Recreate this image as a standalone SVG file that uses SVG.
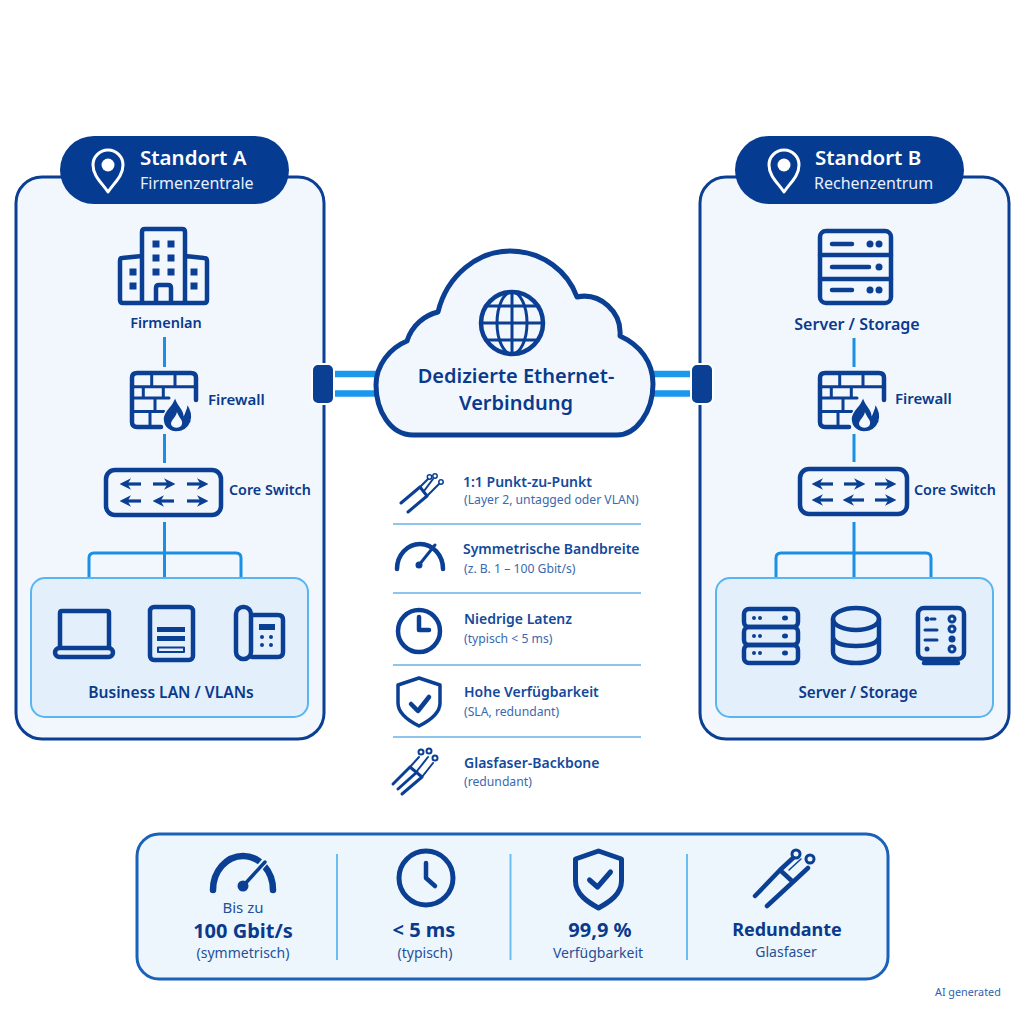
<svg xmlns="http://www.w3.org/2000/svg" width="1024" height="1024" viewBox="0 0 1024 1024">
<style>
text{font-family:"Noto Sans","Open Sans","Liberation Sans",sans-serif;fill:#0a3a8c}
.ic{fill:none;stroke:#0b3f94;stroke-width:4.500;stroke-linecap:round;stroke-linejoin:round}
.ict{fill:none;stroke:#0b3f94;stroke-width:3;stroke-linecap:round;stroke-linejoin:round}
.w15{stroke-width:1.500}.w2{stroke-width:2}.w35{stroke-width:3.500}.w5{stroke-width:5}.w6{stroke-width:6.500}
.sol{fill:#0b3f94}
.panel{fill:#f2f7fd;stroke:#0b3f94;stroke-width:3}
.pill{fill:#063b92}
.inner{fill:#e3f0fb;stroke:#5ab4f0;stroke-width:2}
.conn{fill:none;stroke:#1a8fe6;stroke-width:3}
.sep{stroke:#8cc6ef;stroke-width:2}
.div{stroke:#6dbdf3;stroke-width:2}
.t1{font-size:20.500px;font-weight:600;fill:#fff}
.t2{font-size:16px;fill:#e8f0fb}
.lb{font-size:14.500px;font-weight:600}
.ft{font-size:14px;font-weight:600;fill:#134a9c}
.fs{font-size:12.200px;fill:#3a68ae}
.big{font-size:20px;font-weight:700}
.sm{font-size:14px;fill:#1f5099}
.m{text-anchor:middle}
.arrows path{fill:none;stroke:#0b3f94;stroke-width:3.200;marker-end:url(#ah)}
</style>
<defs>
<marker id="ah" viewBox="0 0 10 10" refX="7" refY="5" markerWidth="3.600" markerHeight="4" orient="auto"><path d="M0 0 10 5 0 10 3 5Z" fill="#0b3f94"/></marker>
<g id="pin"><path d="M0 21C-6 12-15 5-15-6A15 15 0 0 1 15-6C15 5 6 12 0 21Z" fill="none" stroke="#fff" stroke-width="3" stroke-linejoin="round"/><circle cy="-6" r="6.500" fill="#fff"/></g>
<g id="firewall">
<path class="ic" d="M30 55H6Q1 55 1 50V6Q1 1 6 1H60Q65 1 65 6V28"/>
<path class="ict" d="M1 14.700H65M1 26H38M1 39.600H33M20.700 1V14.700M44 1V14.700M12.300 14.700V26M32.300 14.700V26M24 26V39.600M19 39.600V55"/>
<path class="sol" stroke="#f2f7fd" stroke-width="1.500" d="M44 23C45 32 52 36 53 42C55 38 56 34 56 31C61 38 62 44 60 50C57 57 51 60 45 60C37 60 32 54 32 47C32 40 38 36 41 31C43 28 44 26 44 23Z"/>
<path d="M46 40C48 46 52 48 51 52C50 57 41 57 40 52C40 48 45 45 46 40Z" fill="#f2f7fd"/>
</g>
<g id="shield"><path class="ic w35" d="M0-23 21-16V2C21 13 10 20 0 25C-10 20-21 13-21 2V-16Z"/><path class="ic" d="M-8 3-1 10 10-4"/></g>
<g id="shieldB"><path class="ic w5" d="M0-28 23-20V2C23 15 11 23 0 29C-11 23-23 15-23 2V-20Z"/><path class="ic w5" d="M-9 1-1 8 12-7"/></g>
</defs>
<rect width="1024" height="1024" fill="#fff"/>

<g id="panel-a"><rect class="panel" x="16" y="177" width="308" height="562" rx="26"/></g>
<g id="panel-b"><rect class="panel" x="700" y="177" width="309" height="562" rx="26"/></g>

<g id="connectors">
<path class="conn" d="M164.500 337V367M164.500 434V463M164.500 522V577M89 577V558Q89 553 94 553H236Q241 553 241 558V577"/>
<path class="conn" d="M854 338V367M854 434V462M854 522V577M776 577V558Q776 553 781 553H926Q931 553 931 558V577"/>
<path d="M333 374H378M333 393.500H378M652 374H692M652 393.500H692" fill="none" stroke="#1a98ee" stroke-width="6.500"/>
</g>

<g id="standort-a">
<rect class="pill" x="60" y="136" width="229" height="68" rx="34"/>
<use href="#pin" x="108" y="171"/>
<text class="t1" x="140" y="165">Standort A</text>
<text class="t2" x="140" y="189">Firmenzentrale</text>
</g>
<g id="firmenlan">
<path class="ic" d="M142 303V232Q142 229 145 229H182Q185 229 185 232V303M142 256 122 258Q120 258 120 261V300Q120 303 123 303H204Q207 303 207 300V261Q207 258 204 258L185 256M156 303V288Q156 285 159 285H168Q171 285 171 288V303"/>
<path class="sol" d="M152.500 240.500h7v7h-7zM167.500 240.500h7v7h-7zM152.500 254.500h7v7h-7zM167.500 254.500h7v7h-7zM152.500 268.500h7v7h-7zM167.500 268.500h7v7h-7zM129.500 268.500h7v7h-7zM129.500 282.500h7v7h-7zM190.500 268.500h7v7h-7zM190.500 282.500h7v7h-7z"/>
<text class="lb m" x="166" y="328">Firmenlan</text>
</g>
<g id="firewall-a"><use href="#firewall" x="131" y="372"/><text class="lb" x="208" y="405" style="font-size:15px">Firewall</text></g>
<g id="switch-a">
<rect class="ic" x="106" y="470" width="115" height="45" rx="9"/>
<g class="arrows"><path d="M141 484H123"/><path d="M153 484H172"/><path d="M187 484H205"/><path d="M141 501H123"/><path d="M174 501H156"/><path d="M187 501H205"/></g>
<text class="lb" x="229" y="495" style="font-size:14.300px">Core Switch</text>
</g>
<g id="business-lan">
<rect class="inner" x="31" y="578" width="277" height="139" rx="14"/>
<path class="ic" d="M60 647V613Q60 611 62 611H107Q109 611 109 613V647"/>
<rect class="ic" x="55" y="648" width="58" height="9" rx="4.500"/>
<rect class="ic" x="150" y="607" width="43" height="53" rx="4"/>
<path class="sol" d="M157 627h28v5h-28zM157 636h28v5h-28z"/>
<rect class="ict w2" x="158" y="647.500" width="26" height="4.500"/>
<rect class="ic" x="236" y="607" width="15" height="52" rx="7"/>
<path class="ic" d="M252 615H278Q283 615 283 620V652Q283 657 278 657H252"/>
<path class="sol" d="M259 624h16v6h-16z"/>
<circle class="sol" cx="262" cy="637" r="2"/><circle class="sol" cx="271" cy="637" r="2"/><circle class="sol" cx="262" cy="645" r="2"/><circle class="sol" cx="271" cy="645" r="2"/>
<text class="lb m" x="171" y="698" style="font-size:15.600px">Business LAN / VLANs</text>
</g>

<g id="standort-b">
<rect class="pill" x="735" y="136" width="229" height="68" rx="34"/>
<use href="#pin" x="784" y="171"/>
<text class="t1" x="815" y="165">Standort B</text>
<text class="t2" x="814" y="189">Rechenzentrum</text>
</g>
<g id="server-top">
<rect class="ic" x="820" y="231" width="71" height="72" rx="6"/>
<path class="ic" d="M820 255H891M820 279H891"/>
<path class="ic" d="M832 244H852M832 267H869M832 290H852"/>
<circle class="sol" cx="870" cy="244" r="3.500"/><circle class="sol" cx="879" cy="244" r="3.500"/><circle class="sol" cx="879" cy="267" r="3.500"/><circle class="sol" cx="870" cy="290" r="3.500"/><circle class="sol" cx="879" cy="290" r="3.500"/>
<text class="lb m" x="857" y="330" style="font-size:16px">Server / Storage</text>
</g>
<g id="firewall-b"><use href="#firewall" x="819" y="372"/><text class="lb" x="895" y="404" style="font-size:15px">Firewall</text></g>
<g id="switch-b">
<rect class="ic" x="800" y="469" width="107" height="45" rx="9"/>
<g class="arrows"><path d="M833 484H815"/><path d="M844 484H862"/><path d="M875 484H893"/><path d="M833 500H815"/><path d="M864 500H846"/><path d="M875 500H893"/></g>
<text class="lb" x="914" y="495" style="font-size:14.300px">Core Switch</text>
</g>
<g id="server-storage">
<rect class="inner" x="716" y="578" width="277" height="139" rx="14"/>
<rect class="ic" x="744" y="609" width="54" height="18" rx="5"/><rect class="ic" x="744" y="627" width="54" height="18" rx="5"/><rect class="ic" x="744" y="645" width="54" height="18" rx="5"/>
<path class="sol" d="M752 618a2 2 0 1 0 4 0a2 2 0 1 0-4 0M758 618a2 2 0 1 0 4 0a2 2 0 1 0-4 0M782 618a3 2.500 0 1 0 6 0a3 2.500 0 1 0-6 0M752 636a2 2 0 1 0 4 0a2 2 0 1 0-4 0M758 636a2 2 0 1 0 4 0a2 2 0 1 0-4 0M782 636a3 2.500 0 1 0 6 0a3 2.500 0 1 0-6 0M752 653a2 2 0 1 0 4 0a2 2 0 1 0-4 0M758 653a2 2 0 1 0 4 0a2 2 0 1 0-4 0M782 653a3 2.500 0 1 0 6 0a3 2.500 0 1 0-6 0"/>
<ellipse class="ic" cx="856" cy="619" rx="23" ry="11"/>
<path class="ic" d="M833 619V652C833 659 843 663 856 663S879 659 879 652V619M833 636C833 643 843 646 856 646S879 643 879 636"/>
<rect class="ic" x="918" y="608" width="46" height="51" rx="6"/>
<path class="ic" d="M924 663H958"/>
<circle class="sol" cx="927" cy="619" r="2.500"/><path class="ict" d="M931 619H935M925 630H937M925 640H937"/><circle class="sol" cx="927" cy="649" r="2.500"/>
<circle class="ict" cx="952" cy="619" r="3"/><circle class="ict" cx="952" cy="629" r="3"/><circle class="sol" cx="952" cy="639" r="3.500"/><circle class="ict" cx="952" cy="649" r="3"/>
<text class="lb m" x="858" y="698" style="font-size:15.200px">Server / Storage</text>
</g>

<g id="port-a"><rect x="312" y="364" width="22" height="40" rx="6" fill="#0b3f94" stroke="#fff" stroke-width="2"/></g>
<g id="port-b"><rect x="691" y="364" width="22" height="40" rx="6" fill="#0b3f94" stroke="#fff" stroke-width="2"/></g>

<g id="cloud">
<path d="M413 435C390 435 376 410 376 385C376 365 390 348 407 341C412 325 425 315 438 312C447 275 478 251 510 251C543 251 568 272 577 297C600 292 622 312 620 336C640 345 653 362 653 384C653 412 636 435 617 435Z" fill="#f2f7fd" stroke="#0b3f94" stroke-width="5" stroke-linejoin="round"/>
<circle class="ic" cx="512" cy="323" r="31"/>
<ellipse class="ict" cx="512" cy="323" rx="15" ry="31"/>
<path class="ict" d="M512 292V354M481 323H543M486 306H538M486 340H538"/>
<text x="516" y="383" class="m" font-size="20" font-weight="600">Dedizierte Ethernet-</text>
<text x="516" y="410" class="m" font-size="20" font-weight="600">Verbindung</text>
</g>

<g id="features">
<path class="sep" d="M393 524H641M393 593H641M393 665H641M393 737H641"/>
<path class="ict" d="M401 503 420 487M408 512 427 496M420 487 427 496"/><path class="ict w2" d="M420 487 428 479M424 491 433 479M427 496 439 484"/>
<circle class="ict w15" cx="429.500" cy="477" r="2.200"/><circle class="ict w15" cx="435" cy="476" r="2.200"/><circle class="ict w15" cx="441" cy="482" r="2.200"/>
<text class="ft" x="463" y="487">1:1 Punkt-zu-Punkt</text><text class="fs" x="464" y="504">(Layer 2, untagged oder VLAN)</text>
<path class="ic" d="M397 569A23 25 0 0 1 443 569"/><path class="ict" d="M419 565 435 545"/><circle class="sol" cx="419" cy="565" r="3.500"/>
<text class="ft" x="463" y="554">Symmetrische Bandbreite</text><text class="fs" x="464" y="573">(z. B. 1 – 100 Gbit/s)</text>
<circle class="ic" cx="419" cy="631" r="21"/><path class="ic" d="M419 617V630H429"/>
<text class="ft" x="464" y="624">Niedrige Latenz</text><text class="fs" x="464" y="643">(typisch &lt; 5 ms)</text>
<use href="#shield" x="419" y="701"/>
<text class="ft" x="464" y="697">Hohe Verfügbarkeit</text><text class="fs" x="464" y="716">(SLA, redundant)</text>
<path class="ict" d="M393 784 410 767M398 789 417 772M402 794 422 777M410 767 422 777"/><path class="ict w2" d="M410 767 419 757M417 771 428 757M422 777 433 763"/>
<circle class="ict w2" cx="421" cy="752" r="2.500"/><circle class="ict w2" cx="429" cy="751" r="2.500"/><circle class="ict w2" cx="435" cy="758" r="2.500"/>
<text class="ft" x="464" y="768">Glasfaser-Backbone</text><text class="fs" x="464" y="786">(redundant)</text>
</g>

<g id="summary">
<rect x="137" y="834" width="751" height="145" rx="22" fill="#eef6fd" stroke="#1a62b8" stroke-width="3"/>
<path class="div" d="M337 854V960M510.500 854V960M687 854V960"/>
<path class="ic w6" d="M213 890A30 34 0 0 1 273 890"/>
<path d="M243 886 268 858" stroke="#eef6fd" stroke-width="7" fill="none"/>
<path class="ic w35" d="M243 886 265 862"/><circle class="sol" cx="243" cy="886" r="5.500"/>
<text class="m" x="243" y="913" style="font-size:15px;fill:#1f5099">Bis zu</text>
<text class="big m" x="243" y="938">100 Gbit/s</text>
<text class="sm m" x="243" y="958">(symmetrisch)</text>
<circle class="ic w5" cx="426" cy="878" r="27"/><path class="ic" d="M426 863V878L435 886"/>
<text class="big m" x="424" y="937">&lt; 5 ms</text>
<text class="sm m" x="425" y="958">(typisch)</text>
<use href="#shieldB" x="598.500" y="879"/>
<text class="big m" x="600" y="937">99,9 %</text>
<text class="sm m" x="598" y="958">Verfügbarkeit</text>
<path class="ic" d="M755 896 780 870M767 906 793 882M780 870 793 882M780 870 793 858M793 882 808 868"/><path class="ict w15" d="M789 870 801 859"/>
<circle class="ict" cx="796" cy="854" r="4"/><circle class="ict" cx="810" cy="859" r="4"/>
<text class="big m" x="787" y="936" style="font-size:18px">Redundante</text>
<text class="sm m" x="786" y="957">Glasfaser</text>
</g>
<text id="ai-note" x="935" y="996" style="font-size:10.800px;fill:#2f62ae">AI generated</text>
</svg>
